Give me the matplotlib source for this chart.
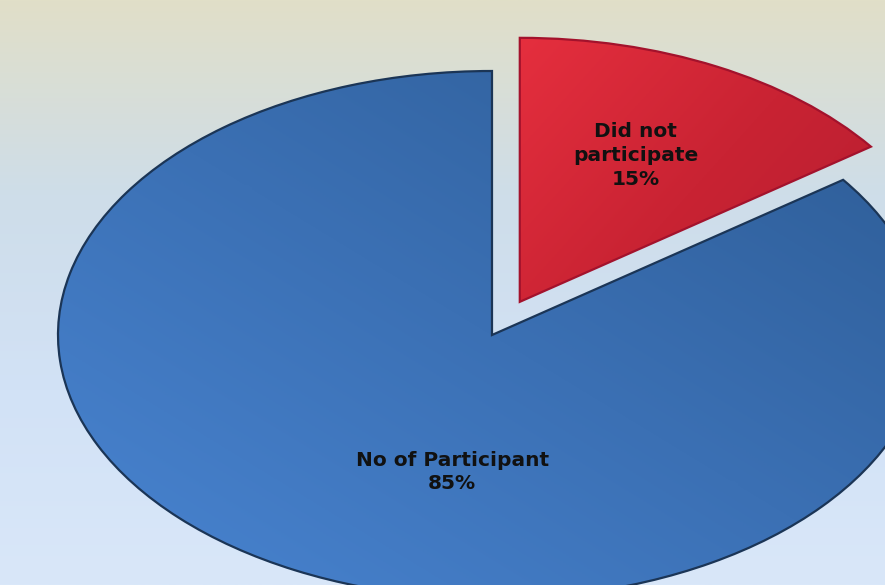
import numpy as np
import matplotlib
matplotlib.use("Agg")
import matplotlib.pyplot as plt
from matplotlib.colors import LinearSegmentedColormap

labels = ["Did not\nparticipate", "No of Participant"]
values = [15, 85]
pct_text = ["15%", "85%"]
explode = [0.141, 0.0]

fig = plt.figure(figsize=(8.85, 5.85), dpi=100)
# background gradient
bg = fig.add_axes([0, 0, 1, 1])
bg.set_axis_off()
bg_cmap = LinearSegmentedColormap.from_list("bg", ["#e1dfc8", "#cedde9", "#d2e2f6", "#d9e7f9"])
bg.imshow(np.linspace(0, 1, 256).reshape(-1, 1), aspect="auto", cmap=bg_cmap, extent=[0, 1, 0, 1])

ax = fig.add_axes([0, 0, 1, 1])
ax.patch.set_alpha(0)
wedges, _ = ax.pie(values, explode=explode, startangle=90, counterclock=False,
                   radius=1.0, wedgeprops=dict(linewidth=1.6))
ax.set_aspect("auto")
ax.set_axis_off()

grads = [
    LinearSegmentedColormap.from_list("r", ["#b21d30", "#c92333", "#e8303f"]),
    LinearSegmentedColormap.from_list("b", ["#4a86d4", "#3b70b4", "#2c5a92"]),
]
edgecols = ["#a3122c", "#1b3556"]
for w, cm, ec in zip(wedges, grads, edgecols):
    w.set_facecolor("none")
    w.set_edgecolor(ec)
    w.set_zorder(3)
    n = 300
    xx, yy = np.meshgrid(np.linspace(0, 1, n), np.linspace(0, 1, n))
    if cm.name == "r":
        g = 1 - (xx * 0.6 + (1 - yy) * 0.4)
        ext = [w.center[0] - 0.05, w.center[0] + 0.9, w.center[1] - 0.1, w.center[1] + 1.05]
    else:
        g = xx * 0.5 + yy * 0.5
        ext = [-1.05, 1.05, -1.05, 1.05]
    im = ax.imshow(g, origin="lower", extent=ext, cmap=cm, aspect="auto", zorder=2,
                   interpolation="bilinear")
    im.set_clip_path(w)

ax.set_xlim(-492 / 434, 393 / 434)
ax.set_ylim(-250 / 264, 335 / 264)

ax.text(0.267 + wedges[0].center[0], 0.553 + wedges[0].center[1],
        labels[0] + "\n" + pct_text[0], ha="center", va="center",
        fontsize=14.5, fontweight="bold", color="#111111", zorder=5, linespacing=1.33)
ax.text(-0.092, -0.519, labels[1] + "\n" + pct_text[1], ha="center", va="center",
        fontsize=14.5, fontweight="bold", color="#111111", zorder=5, linespacing=1.33)

fig.savefig("out.png", dpi=100)
